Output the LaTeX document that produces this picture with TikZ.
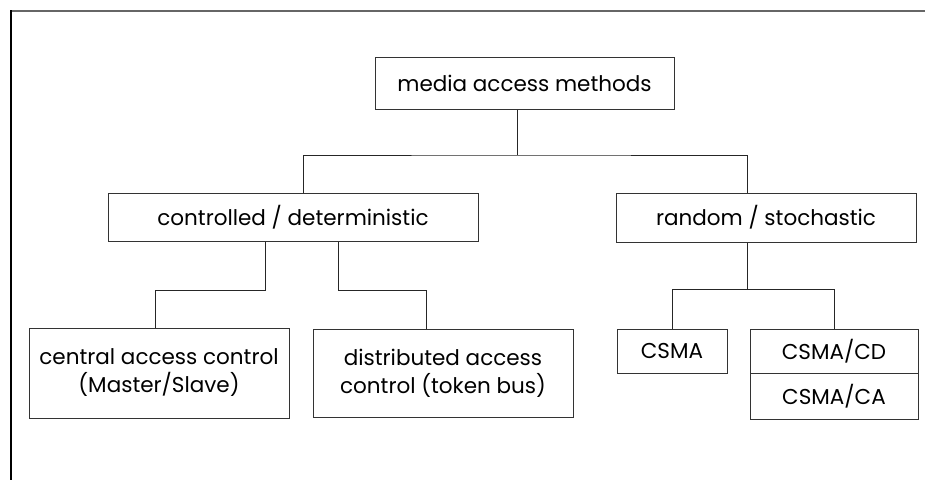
\documentclass[tikz,border=0pt]{standalone}
\usepackage{fontspec}
\setmainfont{Poppins}
\usetikzlibrary{positioning}
\tikzset{%
	method box/.style={
		draw=black!80,
		line width=1pt,
		align=center,
		inner sep=0pt,
		font=\fontsize{21.5}{28}\selectfont
	},
	tree line/.style={
		draw=black!85,
		line width=1pt
	},
}

\begin{document}
\begin{tikzpicture}[x=1pt,y=-1pt]
	% page
	\useasboundingbox (0,0) rectangle (925,480);
	
	% frame (top and left edge only)
	\draw[black!60, line width=2pt] (10,11) -- (925,11);
	\draw[black, line width=1.5pt] (11,10) -- (11,480);
	
	% root
	\node[method box, minimum width=299pt, minimum height=52pt] (media) at (524.5,83) {media access methods};
	
	% second level
	\node[method box, minimum width=370pt, minimum height=48pt] (ctrl) at (293,217) {controlled / deterministic};
	\node[method box, minimum width=300pt, minimum height=49pt] (rand) at (766,217.5) {random / stochastic};
	
	% third level, controlled
	\node[method box, minimum width=260pt, minimum height=90pt] (central) at (159,373) {central access control\\(Master/Slave)};
	\node[method box, minimum width=260pt, minimum height=88pt] (distrib) at (443,373) {distributed access\\control (token bus)};
	
	% third level, random
	\node[method box, minimum width=110pt, minimum height=44pt] (csma) at (672,351) {CSMA};
	\node[method box, minimum width=168pt, minimum height=44pt] (cd) at (834,351) {CSMA/CD};
	\node[method box, minimum width=168pt, minimum height=46pt] (ca) at (834,396) {CSMA/CA};
	
	% connectors
	\coordinate (j1) at (517,155);
	\draw[tree line] ([xshift=-7.5pt]media.south) -- (j1);
	\draw[tree line] ([xshift=10pt]ctrl.north) |- (j1) -| ([xshift=-19pt]rand.north);
	
	\draw[tree line] ([xshift=-28pt]ctrl.south) -- ++(0,49) -| ([xshift=-4pt]central.north);
	\draw[tree line] ([xshift=45pt]ctrl.south) -- ++(0,49) -| ([xshift=-17pt]distrib.north);
	
	\draw[tree line] ([xshift=-19pt]rand.south) -- ++(0,47) coordinate (j2);
	\draw[tree line] (csma.north) |- (j2) -| (cd.north);
\end{tikzpicture}
\end{document}
